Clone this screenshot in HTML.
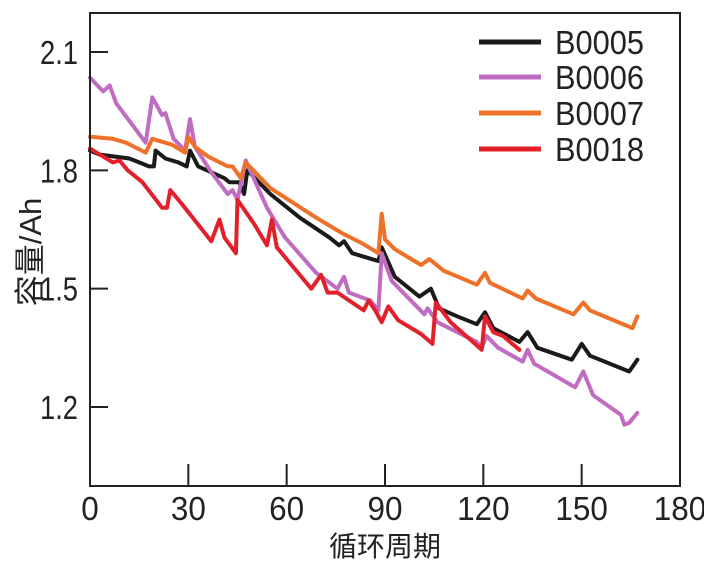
<!DOCTYPE html>
<html><head><meta charset="utf-8"><style>
html,body{margin:0;padding:0;background:#fff;}
svg{display:block;font-family:"Liberation Sans","Noto Sans CJK SC",sans-serif;}
</style></head><body>
<svg id="chart" width="704" height="568" viewBox="0 0 704 568" xmlns="http://www.w3.org/2000/svg">
<g id="plot"></g>
</svg>
<script>
const xTicks = [0, 30, 60, 90, 120, 150, 180];
const yTicks = [1.2, 1.5, 1.8, 2.1];
const yTickLabels = ["1.2", "1.5", "1.8", "2.1"];
const seriesNames = ["B0005", "B0006", "B0007", "B0018"];
const seriesColors = ["#1a1a1a", "#c06cc0", "#ef7028", "#e3202a"];
const b0005Cycles = [0,3,12,15,18,19.5,20,23,27,29.5,30.5,33,41,42.5,45.5,47,48,55,64,73,76,77.5,80,88,89,93,100.5,104,106.5,112,118,120.5,123,131,133.5,136.5,147,150,152.5,164.5,167];
const b0005Values = [1.85,1.84,1.83,1.82,1.81,1.81,1.85,1.83,1.82,1.81,1.85,1.81,1.78,1.77,1.77,1.74,1.80,1.74,1.68,1.63,1.61,1.62,1.59,1.57,1.605,1.53,1.48,1.50,1.45,1.43,1.41,1.44,1.40,1.365,1.39,1.35,1.32,1.36,1.33,1.29,1.32];
const b0006Cycles = [0,4,6,8,17,19,22,23,25.5,29,30.5,32,37,42,43.5,45,47.5,54,59.5,69,75.5,77.5,79,85.5,88,89,92,102,103,106,118,119.5,121,124.5,132,133.5,135.5,148,150.5,153.5,162,163,164.5,167];
const b0006Values = [2.035,2.0,2.015,1.97,1.87,1.985,1.94,1.945,1.88,1.85,1.93,1.86,1.795,1.74,1.75,1.725,1.825,1.705,1.63,1.54,1.50,1.53,1.49,1.47,1.445,1.59,1.52,1.435,1.45,1.415,1.365,1.35,1.38,1.35,1.315,1.345,1.31,1.25,1.29,1.23,1.18,1.155,1.16,1.185];
const b0007Cycles = [0,7,11,17,19,25,29,30,32,36,42,43.5,46,47.5,55,69,77,83,88,89,90,93,101,103.5,108,118,120.5,122,132,133.5,136,147.5,150.5,152.5,165.5,167];
const b0007Values = [1.885,1.88,1.87,1.845,1.88,1.865,1.845,1.885,1.86,1.835,1.81,1.81,1.78,1.82,1.755,1.68,1.64,1.615,1.59,1.69,1.625,1.60,1.56,1.575,1.545,1.51,1.54,1.515,1.475,1.495,1.475,1.435,1.465,1.445,1.40,1.43];
const b0018Cycles = [0,3,7,9,11.5,16,22,23.5,24.5,28,37,39.5,41,44.5,45,50,54,55.5,57,67.5,70.5,72.5,75.5,83.5,85,87,89,91,94,101,104.5,105.5,110,119.5,120.5,123,126,131];
const b0018Values = [1.855,1.84,1.82,1.825,1.80,1.77,1.705,1.705,1.75,1.715,1.62,1.675,1.63,1.59,1.725,1.665,1.61,1.675,1.605,1.50,1.535,1.49,1.49,1.445,1.47,1.445,1.415,1.455,1.42,1.385,1.36,1.465,1.415,1.345,1.43,1.39,1.38,1.345];

const NS = "http://www.w3.org/2000/svg";
const L = 90, R = 680, T = 13, B = 486;
function xScale(c){ return L + (c - 0) / 180 * (R - L); }
function yScale(v){ return 52 + (2.1 - v) / 0.9 * (407 - 52); }
const plot = document.getElementById('plot');
function mk(tag, attrs){ const e = document.createElementNS(NS, tag); for (const k in attrs) e.setAttribute(k, attrs[k]); plot.appendChild(e); return e; }

const allC = [b0005Cycles, b0006Cycles, b0007Cycles, b0018Cycles];
const allV = [b0005Values, b0006Values, b0007Values, b0018Values];
for (let s = 0; s < 4; s++) {
  const pts = allC[s].map((c, i) => xScale(c).toFixed(1) + ',' + yScale(allV[s][i]).toFixed(1)).join(' ');
  const pl = mk('polyline', {points: pts, fill: 'none', stroke: seriesColors[s], 'stroke-width': 4, 'stroke-linejoin': 'round', 'stroke-linecap': 'round'});
  
  
}

const fr = mk('rect', {x: L, y: T, width: R - L, height: B - T, fill: 'none', stroke: '#222', 'stroke-width': 2});



xTicks.forEach(t => {
  const x = xScale(t);
  if (t > 0 && t < 180) {
    const ln = mk('line', {x1: x, x2: x, y1: B, y2: B - 22, stroke: '#222', 'stroke-width': 2});
    
    
  }
  const s = String(t);
  const tx = mk('text', {x: x, y: 520, 'text-anchor': 'middle', 'font-size': 33, fill: '#222', textLength: s.length * 17.5, lengthAdjust: 'spacingAndGlyphs'});
  tx.textContent = s;
  
  
});
yTicks.forEach((t, i) => {
  const y = yScale(t);
  const ln = mk('line', {x1: L, x2: L + 18, y1: y, y2: y, stroke: '#222', 'stroke-width': 2});
  
  
  const tx = mk('text', {x: 78, y: y + 12, 'text-anchor': 'end', 'font-size': 33, fill: '#222', textLength: 38, lengthAdjust: 'spacingAndGlyphs'});
  tx.textContent = yTickLabels[i];
  
  
});
const xt = mk('text', {x: 385, y: 556, 'text-anchor': 'middle', 'font-size': 28, fill: '#222'});
xt.textContent = '循环周期';


const yt = mk('text', {x: 0, y: 0, 'text-anchor': 'middle', 'font-size': 31, fill: '#222', transform: 'translate(41,252) rotate(-90)'});
yt.textContent = '容量/Ah';


const legY = [42, 77, 113, 149];
for (let s = 0; s < 4; s++) {
  const ln = mk('line', {x1: 479, x2: 541, y1: legY[s], y2: legY[s], stroke: seriesColors[s], 'stroke-width': 5});
  
  
  const tx = mk('text', {x: 555, y: legY[s] + 12, 'font-size': 33, fill: '#222', textLength: 89, lengthAdjust: 'spacingAndGlyphs'});
  tx.textContent = seriesNames[s];
  
  
}
</script>
</body></html>
